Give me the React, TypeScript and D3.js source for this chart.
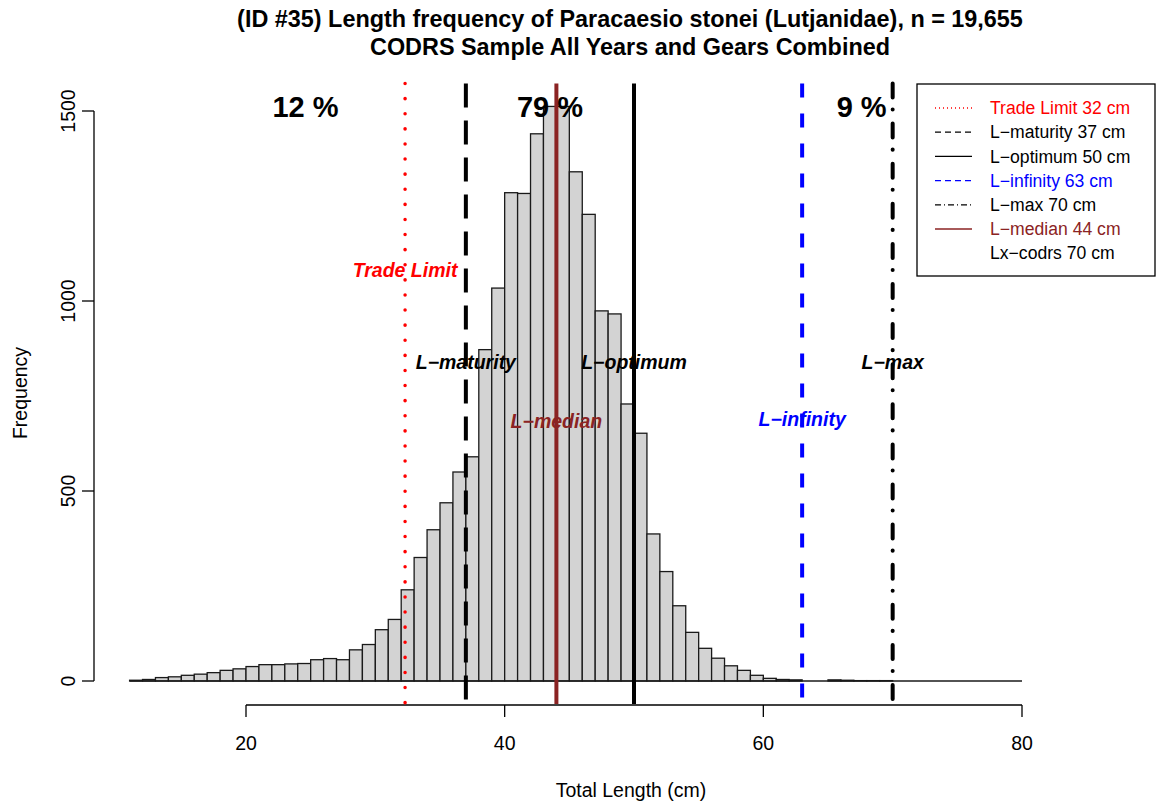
import { useEffect, useRef } from "react"
import * as d3 from "d3"

// histogram bins (left edge, cm) and counts
const binStarts = [
  11, 12, 13, 14, 15, 16, 17, 18, 19, 20, 21, 22, 23, 24, 25, 26, 27, 28, 29, 30,
  31, 32, 33, 34, 35, 36, 37, 38, 39, 40, 41, 42, 43, 44, 45, 46, 47, 48, 49, 50,
  51, 52, 53, 54, 55, 56, 57, 58, 59, 60, 61, 62, 63, 64, 65, 66, 67, 68, 69, 70,
  71, 72, 73, 74, 75, 76, 77, 78, 79,
]
const counts = [
  2, 4, 9, 11, 15, 18, 22, 28, 32, 38, 43, 43, 45, 46, 56, 59, 56, 82, 96, 135,
  162, 240, 325, 398, 469, 550, 590, 872, 1034, 1285, 1283, 1440, 1512, 1512, 1340, 1228, 974, 966, 729, 652,
  387, 288, 198, 128, 86, 60, 40, 28, 15, 7, 4, 3, 0, 0, 3, 2, 1, 1, 1, 0,
  0, 0, 0, 0, 0, 0, 0, 0, 0,
]

const xTicks = [20, 40, 60, 80]
const yTicks = [0, 500, 1000, 1500]

// reference lines
const refNames = ["Trade Limit", "L\u2212maturity", "L\u2212optimum", "L\u2212infinity", "L\u2212max", "L\u2212median"]
const refValues = [32.3, 37, 50, 63, 70, 44]
const refColors = ["#ff0000", "#000000", "#000000", "#0000ff", "#000000", "#8b2323"]
const refDash = ["0.1 15", "24 13", null, "14 16", "14 12 0.1 14", null]
const refLabelY = [1080, 840, 840, 690, 840, 685]

const legendLabels = [
  "Trade Limit 32 cm",
  "L\u2212maturity 37 cm",
  "L\u2212optimum 50 cm",
  "L\u2212infinity 63 cm",
  "L\u2212max 70 cm",
  "L\u2212median 44 cm",
  "Lx\u2212codrs 70 cm",
]
const legendColors = ["#ff0000", "#000000", "#000000", "#0000ff", "#000000", "#8b2323", "#000000"]
const legendDash = ["1 3", "6 4", null, "6 4", "6 3 1 3", null, "none"]

const pctLabels = ["12 %", "79 %", "9 %"]
const pctX = [24.6, 43.5, 67.6]

const FONT = "'Liberation Sans', Arial, Helvetica, sans-serif"

export default function App() {
  const svgRef = useRef<SVGSVGElement>(null)

  useEffect(() => {
    if (!svgRef.current) return
    const svg = d3.select(svgRef.current)
    svg.selectAll("*").remove()

    const x = d3.scaleLinear().domain([20, 80]).range([246, 1022])
    const y = d3.scaleLinear().domain([0, 1500]).range([681, 111])
    const plotTop = 83.5
    const plotBottom = 704

    // Title
    svg
      .append("text")
      .attr("x", 630)
      .attr("y", 27)
      .attr("text-anchor", "middle")
      .attr("font-weight", "bold")
      .attr("font-size", 23.4)
      .text("(ID #35) Length frequency of Paracaesio stonei (Lutjanidae), n = 19,655")
    svg
      .append("text")
      .attr("x", 630)
      .attr("y", 55)
      .attr("text-anchor", "middle")
      .attr("font-weight", "bold")
      .attr("font-size", 23.4)
      .text("CODRS Sample All Years and Gears Combined")

    // Bars
    svg
      .append("g")
      .selectAll("rect")
      .data(binStarts.map((b, i) => ({ b, c: counts[i] })).filter((d) => d.c > 0))
      .enter()
      .append("rect")
      .attr("x", (d) => x(d.b))
      .attr("y", (d) => y(d.c))
      .attr("width", (d) => x(d.b + 1) - x(d.b))
      .attr("height", (d) => y(0) - y(d.c))
      .attr("fill", "#d3d3d3")
      .attr("stroke", "#1a1a1a")
      .attr("stroke-width", 1.3)

    // zero-height bars show as a base line
    svg
      .append("line")
      .attr("x1", x(binStarts[0]))
      .attr("x2", x(binStarts[binStarts.length - 1] + 1))
      .attr("y1", y(0))
      .attr("y2", y(0))
      .attr("stroke", "#1a1a1a")
      .attr("stroke-width", 1.3)

    // Y axis
    const yAxis = svg.append("g").attr("transform", "translate(94,0)")
    yAxis
      .append("line")
      .attr("x1", 0)
      .attr("x2", 0)
      .attr("y1", y(0))
      .attr("y2", y(1500))
      .attr("stroke", "black")
      .attr("stroke-width", 1.3)
    yTicks.forEach((t) => {
      yAxis
        .append("line")
        .attr("x1", 0)
        .attr("x2", -12)
        .attr("y1", y(t))
        .attr("y2", y(t))
        .attr("stroke", "black")
        .attr("stroke-width", 1.3)
      yAxis
        .append("text")
        .attr("transform", `translate(-19,${y(t)}) rotate(-90)`)
        .attr("text-anchor", "middle")
        .attr("font-size", 19.5)
        .text(t)
    })

    // X axis
    const xAxis = svg.append("g").attr("transform", "translate(0,705)")
    xAxis
      .append("line")
      .attr("x1", x(20))
      .attr("x2", x(80))
      .attr("stroke", "black")
      .attr("stroke-width", 1.3)
    xTicks.forEach((t) => {
      xAxis
        .append("line")
        .attr("x1", x(t))
        .attr("x2", x(t))
        .attr("y1", 0)
        .attr("y2", 12)
        .attr("stroke", "black")
        .attr("stroke-width", 1.3)
      xAxis
        .append("text")
        .attr("x", x(t))
        .attr("y", 45)
        .attr("text-anchor", "middle")
        .attr("font-size", 19.5)
        .text(t)
    })

    // axis titles
    svg
      .append("text")
      .attr("x", 631)
      .attr("y", 797)
      .attr("text-anchor", "middle")
      .attr("font-size", 19.5)
      .text("Total Length (cm)")
    svg
      .append("text")
      .attr("transform", "translate(27,393) rotate(-90)")
      .attr("text-anchor", "middle")
      .attr("font-size", 19.5)
      .text("Frequency")

    // Reference lines
    const refOrder = [0, 1, 2, 3, 4, 5]
    refOrder.forEach((i) => {
      svg
        .append("line")
        .attr("x1", x(refValues[i]))
        .attr("x2", x(refValues[i]))
        .attr("y1", plotTop)
        .attr("y2", plotBottom)
        .attr("stroke", refColors[i])
        .attr("stroke-width", i === 0 ? 3.5 : 4)
        .attr("stroke-linecap", i === 0 || i === 4 ? "round" : "butt")
        .attr("stroke-dasharray", refDash[i])
    })

    // Reference labels
    refOrder.forEach((i) => {
      svg
        .append("text")
        .attr("x", x(refValues[i]))
        .attr("y", y(refLabelY[i]))
        .attr("dy", "0.35em")
        .attr("text-anchor", "middle")
        .attr("font-size", 19.5)
        .attr("font-weight", "bold")
        .attr("font-style", "italic")
        .attr("fill", refColors[i])
        .text(refNames[i])
    })

    // Percent labels
    pctLabels.forEach((p, i) => {
      svg
        .append("text")
        .attr("x", x(pctX[i]))
        .attr("y", y(1510))
        .attr("dy", "0.35em")
        .attr("text-anchor", "middle")
        .attr("font-size", 29)
        .attr("font-weight", "bold")
        .text(p)
    })

    // Legend
    const legend = svg.append("g").attr("transform", "translate(917,84)")
    legend
      .append("rect")
      .attr("width", 238)
      .attr("height", 192)
      .attr("fill", "white")
      .attr("stroke", "black")
      .attr("stroke-width", 1.3)
    legendLabels.forEach((label, i) => {
      const ly = 24 + i * 24.2
      if (legendDash[i] !== "none") {
        legend
          .append("line")
          .attr("x1", 18)
          .attr("x2", 55)
          .attr("y1", ly)
          .attr("y2", ly)
          .attr("stroke", legendColors[i])
          .attr("stroke-width", 1.3)
          .attr("stroke-dasharray", legendDash[i])
      }
      legend
        .append("text")
        .attr("x", 73)
        .attr("y", ly)
        .attr("dy", "0.35em")
        .attr("font-size", 17.6)
        .attr("fill", legendColors[i])
        .text(label)
    })
  }, [])

  return (
    <div style={{ position: "absolute", left: 0, top: 0 }}>
      <svg
        ref={svgRef}
        width={1161}
        height={805}
        style={{ display: "block", fontFamily: FONT, background: "white" }}
      />
    </div>
  )
}
